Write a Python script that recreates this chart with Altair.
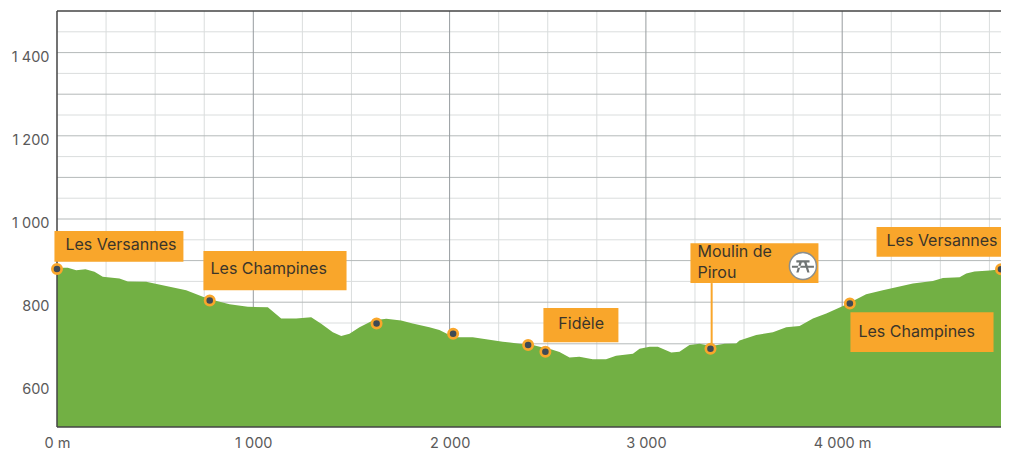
import altair as alt
import pandas as pd

# Elevation profile
dist = [0,55,98,145,191,233,318,361,454,556,658,743,794,879,972,1074,1142,1218,1295,1346,1405,1448,1490,1541,1609,1677,1753,1812,1897,1948,1999,2042,2118,2186,2271,2356,2424,2475,2520,2560,2611,2661,2729,2797,2848,2934,2968,3019,3061,3129,3171,3222,3273,3333,3401,3460,3477,3562,3647,3715,3783,3851,3919,4004,4080,4122,4207,4275,4360,4462,4513,4598,4632,4674,4751,4809]
elev = [883,883,877,879,873,861,857,850,849,839,829,813,805,795,789,788,761,761,764,748,728,719,724,740,756,760,756,749,740,733,721,716,716,711,705,700,697,691,686,680,667,669,663,663,671,676,688,693,693,679,681,697,700,695,700,701,708,721,728,740,743,761,773,791,809,819,829,836,845,851,858,860,869,874,876,879]

# Waypoints
way_d = [0,778,1628,2018,2400,2488,3329,4039,4809]
way_e = [880,804,749,724,697,681,688,797,879]

# Label boxes
box_x1 = [-13,746,2478,3227,4175,4042]
box_x2 = [644,1475,2860,3879,4809,4771]
box_y1 = [897,829,704,846,909,680]
box_y2 = [971,923,786,942,981,776]

# Label texts
txt = ["Les Versannes","Les Champines","Fidèle","Moulin de","Pirou","Les Versannes","Les Champines"]
txt_d = [43,782,2554,3263,3263,4226,4083]
txt_e = [937,880,748,921,870,947,728]

# Grid values
x_major = [1000,2000,3000,4000]
x_minor = [250,500,750,1250,1500,1750,2250,2500,2750,3250,3500,3750,4250,4500,4750]
y_major = [600,700,800,900,1000,1100,1200,1300,1400]
y_minor = [550,650,750,850,950,1050,1150,1250,1350,1450]
x_ticks = [0,1000,2000,3000,4000]
y_ticks = [600,800,1000,1200,1400]

XS = alt.Scale(domain=[0,4809], nice=False, zero=False)
YS = alt.Scale(domain=[500,1500], nice=False, zero=False)
X = lambda f, **k: alt.X(f, type="quantitative", scale=XS, title=None, **k)
Y = lambda f, **k: alt.Y(f, type="quantitative", scale=YS, title=None, **k)

FONT = "Inter"
ORANGE = "#f9a62b"

def vrules(vals, color, w=1):
    return alt.Chart(pd.DataFrame({"v": vals})).mark_rule(color=color, strokeWidth=w).encode(x=X("v"))
def hrules(vals, color, w=1):
    return alt.Chart(pd.DataFrame({"v": vals})).mark_rule(color=color, strokeWidth=w).encode(y=Y("v"))

xaxis = alt.Chart(pd.DataFrame({"x": x_ticks})).mark_rule(opacity=0).encode(
    x=X("x", axis=alt.Axis(values=x_ticks, grid=False, domain=False, ticks=False, labelFont=FONT,
        labelFontSize=14.5, labelColor="#5a5a5a", labelPadding=9, labelFlush=False,
        labelExpr="datum.value == 0 ? '0 m' : datum.value == 4000 ? '4 000 m' : replace(format(datum.value, ','), ',', ' ')")),
)
yaxis = alt.Chart(pd.DataFrame({"y": y_ticks})).mark_rule(opacity=0).encode(
    y=Y("y", axis=alt.Axis(values=y_ticks, grid=False, domain=False, ticks=False, labelFont=FONT,
        labelFontSize=14.5, labelColor="#5a5a5a", labelPadding=8, labelOffset=4.5,
        labelExpr="replace(format(datum.value, ','), ',', ' ')")),
)

profile = pd.DataFrame({"d": dist, "e": elev, "b": [500]*len(dist)})
area = alt.Chart(profile).mark_area(color="#72b044", opacity=1).encode(x=X("d"), y=Y("e"), y2="b")

boxes = alt.Chart(pd.DataFrame({"a": box_x1, "b": box_x2, "c": box_y1, "e": box_y2})).mark_rect(color=ORANGE, opacity=1).encode(
    x=X("a"), x2="b", y=Y("c"), y2="e")
labels = alt.Chart(pd.DataFrame({"t": txt, "d": txt_d, "e": txt_e})).mark_text(
    align="left", baseline="middle", font=FONT, fontSize=16, color="#3b352a").encode(x=X("d"), y=Y("e"), text="t:N")
points = alt.Chart(pd.DataFrame({"d": way_d, "e": way_e})).mark_point(
    filled=True, fill="#3f4a55", stroke=ORANGE, strokeWidth=2.7, size=86, opacity=1).encode(x=X("d"), y=Y("e"))
leader = alt.Chart(pd.DataFrame({"d": [3335], "a": [846], "b": [700]})).mark_rule(color=ORANGE, strokeWidth=2).encode(
    x=X("d"), y=Y("a"), y2="b")

icon_pos = pd.DataFrame({"d": [3800], "e": [887]})
badge = alt.Chart(icon_pos).mark_point(filled=True, fill="#ffffff", stroke="#8a8f8f", strokeWidth=1.5, size=730, opacity=1, shape="circle").encode(x=X("d"), y=Y("e"))
TABLE = "M-0.45 -0.4H0.45V-0.24H-0.45Z M-0.75 -0.02H0.75V0.12H-0.75Z M-0.25 -0.24L-0.45 0.45H-0.3L-0.08 -0.24Z M0.25 -0.24L0.45 0.45H0.3L0.08 -0.24Z"
table = alt.Chart(icon_pos).mark_point(filled=True, fill="#6f7474", strokeWidth=0, size=860, opacity=1, shape=TABLE).encode(x=X("d"), y=Y("e"))

frame = hrules([500,1500], "#444444", 1.5) + vrules([0], "#444444", 1.5)

chart = alt.layer(
    vrules(x_minor, "#dadddd"), hrules(y_minor, "#dadddd"),
    hrules(y_major, "#b4b9b9"), vrules(x_major, "#979c9f"),
    area, frame, xaxis, yaxis, leader, points, boxes, labels, badge, table,
).properties(
    width=944, height=416,
    autosize=alt.AutoSizeParams(type="none"),
    padding={"left": 49, "top": 3, "right": 0, "bottom": 25},
).configure_view(stroke=None)

chart.save("out.html", embed_options={"renderer": "svg", "actions": False})
